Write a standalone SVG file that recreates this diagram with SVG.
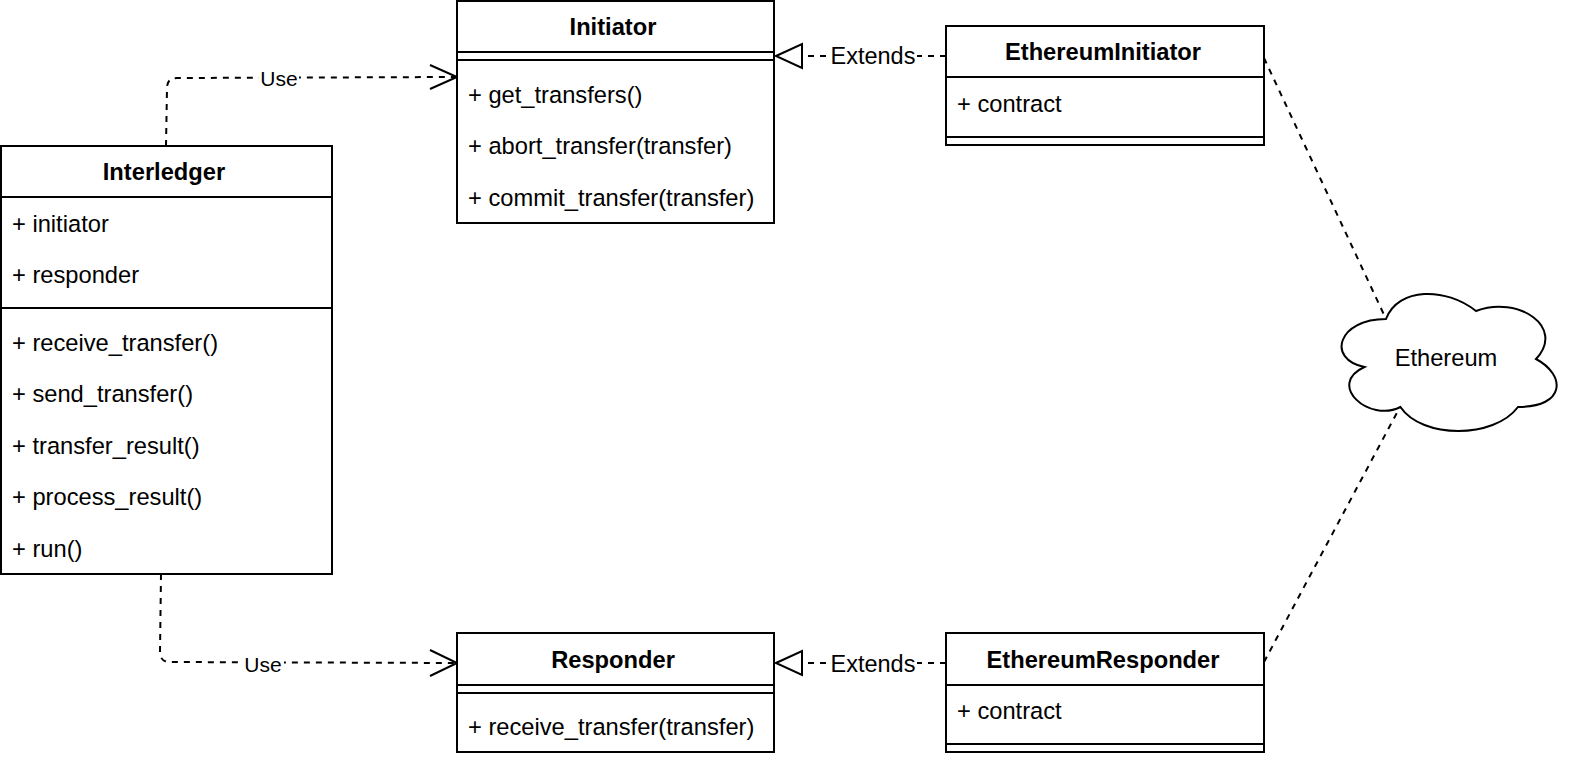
<svg xmlns="http://www.w3.org/2000/svg" width="1582" height="766" viewBox="0 0 1582 766">
<defs>
<style>
.box{fill:#fff;stroke:#000;stroke-width:2}
.ln{stroke:#000;stroke-width:2;fill:none}
.t{font-family:"Liberation Sans",Arial,sans-serif;font-size:23.7px;fill:#000;dominant-baseline:central}
.h{font-weight:bold;text-anchor:middle}
.dash{stroke:#000;stroke-width:2;fill:none;stroke-dasharray:6 6}
.lbl{font-family:"Liberation Sans",Arial,sans-serif;fill:#000;dominant-baseline:central;text-anchor:middle}
</style>
</defs>
<rect width="1582" height="766" fill="#fff"/>
<g id="connectors">
<path class="dash" d="M166,146 L167,88 Q167,78 177,78 L455,77"/>
<path class="ln" d="M430,65 L457,77 L430,89"/>
<rect x="259" y="66" width="40" height="24" fill="#fff"/>
<text class="lbl" x="279" y="78" font-size="21">Use</text>
<path class="dash" d="M161,574 L160,652 Q160,662 170,662 L455,663"/>
<path class="ln" d="M430,650 L457,663 L430,676"/>
<rect x="242" y="652" width="42" height="24" fill="#fff"/>
<text class="lbl" x="263" y="664" font-size="21">Use</text>
<path class="dash" d="M946,56 L802,56"/>
<path class="ln" d="M776,56 L802,44 L802,68 Z" fill="#fff"/>
<rect x="829" y="42" width="88" height="28" fill="#fff"/>
<text class="lbl" x="873" y="56" font-size="23.5">Extends</text>
<path class="dash" d="M946,663 L802,663"/>
<path class="ln" d="M776,663 L802,651 L802,675 Z" fill="#fff"/>
<rect x="829" y="649" width="88" height="28" fill="#fff"/>
<text class="lbl" x="873" y="664" font-size="23.5">Extends</text>
<path class="dash" d="M1264,58 L1386,319"/>
<path class="dash" d="M1264,662 L1400,407"/>
</g>
<g id="Initiator">
<rect class="box" x="457" y="1" width="317" height="222"/>
<line class="ln" x1="457" y1="52" x2="774" y2="52"/>
<line class="ln" x1="457" y1="60" x2="774" y2="60"/>
<text class="t h" x="613" y="27">Initiator</text>
<text class="t" x="468" y="95">+ get_transfers()</text>
<text class="t" x="468" y="146">+ abort_transfer(transfer)</text>
<text class="t" x="468" y="198">+ commit_transfer(transfer)</text>
</g>
<g id="Interledger">
<rect class="box" x="1" y="146" width="331" height="428"/>
<line class="ln" x1="1" y1="197" x2="332" y2="197"/>
<line class="ln" x1="1" y1="308" x2="332" y2="308"/>
<text class="t h" x="164" y="172">Interledger</text>
<text class="t" x="12" y="224">+ initiator</text>
<text class="t" x="12" y="275">+ responder</text>
<text class="t" x="12" y="343">+ receive_transfer()</text>
<text class="t" x="12" y="394">+ send_transfer()</text>
<text class="t" x="12" y="446">+ transfer_result()</text>
<text class="t" x="12" y="497">+ process_result()</text>
<text class="t" x="12" y="549">+ run()</text>
</g>
<g id="EthereumInitiator">
<rect class="box" x="946" y="26" width="318" height="119"/>
<line class="ln" x1="946" y1="77" x2="1264" y2="77"/>
<line class="ln" x1="946" y1="137" x2="1264" y2="137"/>
<text class="t h" x="1103" y="52">EthereumInitiator</text>
<text class="t" x="957" y="104">+ contract</text>
</g>
<g id="Responder">
<rect class="box" x="457" y="633" width="317" height="119"/>
<line class="ln" x1="457" y1="685" x2="774" y2="685"/>
<line class="ln" x1="457" y1="693" x2="774" y2="693"/>
<text class="t h" x="613" y="660">Responder</text>
<text class="t" x="468" y="727">+ receive_transfer(transfer)</text>
</g>
<g id="EthereumResponder">
<rect class="box" x="946" y="633" width="318" height="119"/>
<line class="ln" x1="946" y1="685" x2="1264" y2="685"/>
<line class="ln" x1="946" y1="744" x2="1264" y2="744"/>
<text class="t h" x="1103" y="660">EthereumResponder</text>
<text class="t" x="957" y="711">+ contract</text>
</g>
<g id="Ethereum">
<path class="box" d="M1386,319 C1338,319 1326,359 1364.4,367 C1326,384.6 1369.2,423 1400.4,407 C1422,439 1494,439 1518,407 C1566,407 1566,375 1536,359 C1566,327 1518,295 1476,311 C1446,287 1398,287 1386,319 Z"/>
<text class="t" x="1446" y="358" text-anchor="middle">Ethereum</text>
</g>
</svg>
